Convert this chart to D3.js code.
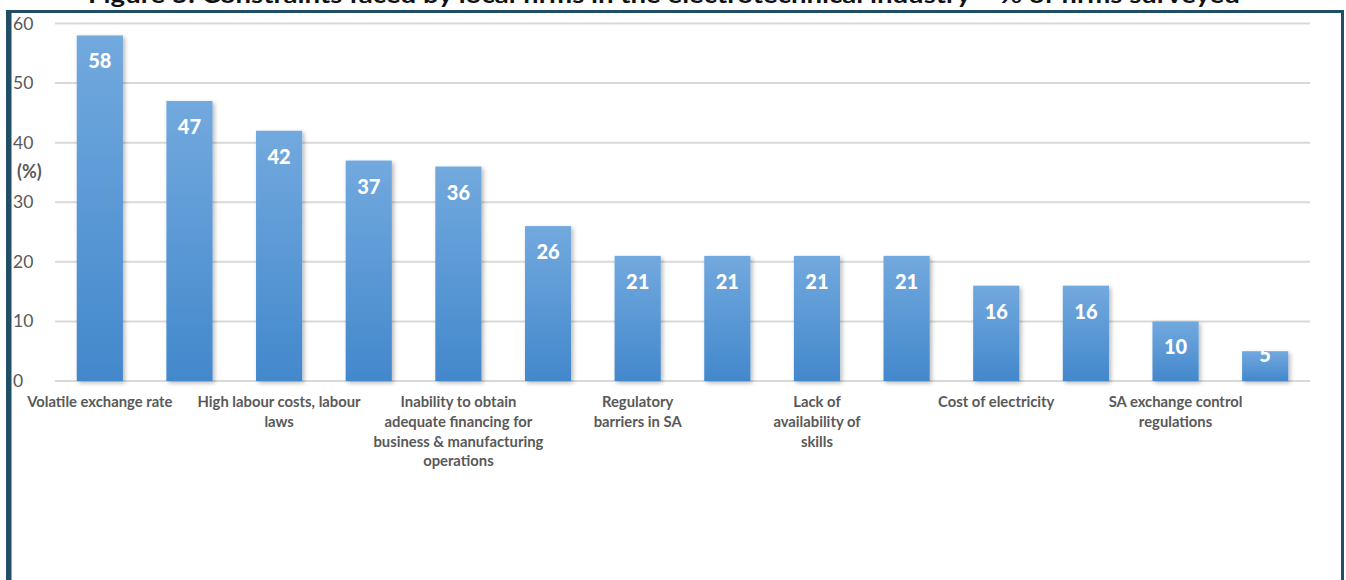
<!DOCTYPE html>
<html>
<head>
<meta charset="utf-8">
<script src="https://cdn.jsdelivr.net/npm/d3@7/dist/d3.min.js"></script>
<style>
  html, body { margin: 0; padding: 0; background: #ffffff; }
  svg { display: block; }
</style>
</head>
<body>
<svg id="chart" width="1346" height="580"></svg>
<script>
// Constraints cited by firms, % of firms surveyed.
// Only every second category name is printed under the axis.
const categories = [
  "Volatile exchange rate", "",
  "High labour costs, labour\nlaws", "",
  "Inability to obtain\nadequate financing for\nbusiness & manufacturing\noperations", "",
  "Regulatory\nbarriers in SA", "",
  "Lack of\navailability of\nskills", "",
  "Cost of electricity", "",
  "SA exchange control\nregulations", ""
];
const values = [58, 47, 42, 37, 36, 26, 21, 21, 21, 21, 16, 16, 10, 5];
const yTicks = [0, 10, 20, 30, 40, 50, 60];
const titleText = "Figure 5: Constraints faced by local firms in the electrotechnical industry \u2013 % of firms surveyed";
const yAxisLabel = "(%)";

const svg = d3.select("#chart");
const W = 1346, H = 580;
const plot = { left: 55, right: 1310, top: 23.5, bottom: 381 };
const font = "Lato, 'Open Sans', sans-serif";

const x = d3.scaleBand()
  .domain(d3.range(categories.length))
  .range([plot.left, plot.right])
  .paddingInner(0.485)
  .paddingOuter(0.2425);

const y = d3.scaleLinear().domain([0, 60]).range([plot.bottom, plot.top]);

const defs = svg.append("defs");
const grad = defs.append("linearGradient")
  .attr("id", "barFill").attr("x1", 0).attr("y1", 0).attr("x2", 0).attr("y2", 1);
grad.append("stop").attr("offset", "0%").attr("stop-color", "#72a9de");
grad.append("stop").attr("offset", "100%").attr("stop-color", "#4388cc");

const shadow = defs.append("filter").attr("id", "barShadow")
  .attr("x", "-20%").attr("y", "-10%").attr("width", "150%").attr("height", "130%");
shadow.append("feDropShadow")
  .attr("dx", 2).attr("dy", 2).attr("stdDeviation", 2.2)
  .attr("flood-color", "#000").attr("flood-opacity", 0.28);

// frame
const frameColor = "#1f4e66";
svg.append("rect").attr("x", 6).attr("y", 10).attr("width", 5.5).attr("height", H - 10).attr("fill", frameColor);
svg.append("rect").attr("x", 6).attr("y", 10).attr("width", 1338).attr("height", 3).attr("fill", frameColor);
svg.append("rect").attr("x", 1341).attr("y", 10).attr("width", 3).attr("height", H - 10).attr("fill", frameColor);

// title (its upper part runs above the page edge)
svg.append("text")
  .attr("x", 664).attr("y", 3)
  .attr("text-anchor", "middle")
  .attr("font-family", font)
  .attr("font-weight", "bold")
  .attr("font-size", 23)
  .attr("fill", "#111")
  .attr("textLength", 1152)
  .attr("lengthAdjust", "spacingAndGlyphs")
  .text(titleText);

// gridlines
svg.append("g").selectAll("line")
  .data(yTicks)
  .join("line")
  .attr("x1", plot.left).attr("x2", plot.right)
  .attr("y1", d => y(d)).attr("y2", d => y(d))
  .attr("stroke", "#d9d9d9").attr("stroke-width", 2);

// y tick labels
svg.append("g").selectAll("text")
  .data(yTicks)
  .join("text")
  .attr("x", 13).attr("y", d => y(d) + 6)
  .attr("font-family", font)
  .attr("font-size", 17.5)
  .attr("fill", "#595959")
  .text(d => d);

svg.append("text")
  .attr("x", 17).attr("y", 178)
  .attr("font-family", font)
  .attr("font-weight", "bold")
  .attr("font-size", 18)
  .attr("fill", "#595959")
  .text(yAxisLabel);

// bars
svg.append("g").selectAll("rect")
  .data(values)
  .join("rect")
  .attr("x", (d, i) => x(i))
  .attr("y", d => y(d))
  .attr("width", x.bandwidth())
  .attr("height", d => y(0) - y(d))
  .attr("fill", "url(#barFill)")
  .attr("filter", "url(#barShadow)");

// value labels
svg.append("g").selectAll("text")
  .data(values)
  .join("text")
  .attr("x", (d, i) => x(i) + x.bandwidth() / 2)
  .attr("y", d => Math.min(y(d) + 33, y(0) - 19))
  .attr("text-anchor", "middle")
  .attr("font-family", font)
  .attr("font-weight", "900")
  .attr("font-size", 20)
  .attr("fill", "#ffffff")
  .text(d => d);

// category labels
const catG = svg.append("g");
categories.forEach((name, i) => {
  if (!name) return;
  const t = catG.append("text")
    .attr("x", x(i) + x.bandwidth() / 2)
    .attr("y", 407)
    .attr("text-anchor", "middle")
    .attr("font-family", font)
    .attr("font-weight", "bold")
    .attr("font-size", 14.8)
    .attr("fill", "#595959");
  name.split("\n").forEach((line, k) => {
    t.append("tspan")
      .attr("x", x(i) + x.bandwidth() / 2)
      .attr("dy", k === 0 ? 0 : 19.8)
      .text(line);
  });
});
</script>
</body>
</html>
